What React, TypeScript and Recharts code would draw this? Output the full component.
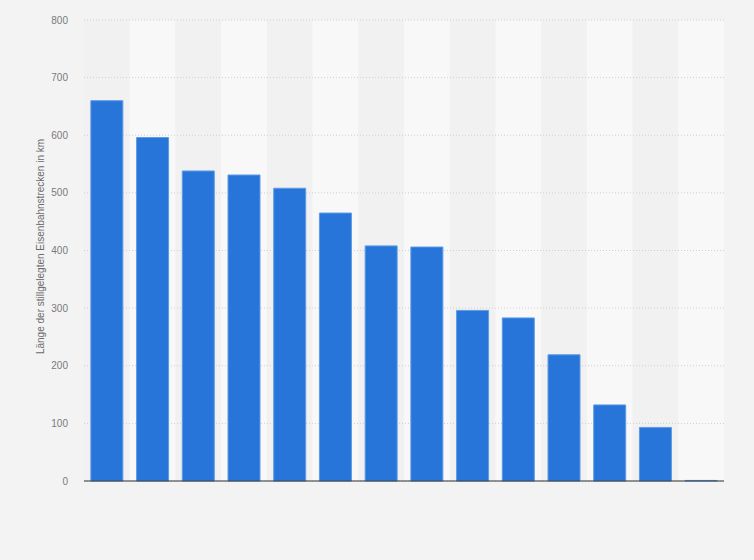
import React from "react";
import { BarChart, Bar, XAxis, YAxis, CartesianGrid, ReferenceArea } from "recharts";

const categories = ["1", "2", "3", "4", "5", "6", "7", "8", "9", "10", "11", "12", "13", "14"];
const values = [660, 596, 538, 531, 508, 465, 408, 406, 296, 283, 219, 132, 93, 1];
const yTicks = [0, 100, 200, 300, 400, 500, 600, 700, 800];
const yLabel = "Länge der stillgelegten Eisenbahnstrecken in km";

const data = categories.map((c, i) => ({ name: c, value: values[i] }));

export default function App() {
  return (
    <div
      style={{
        position: "absolute",
        left: 0,
        top: 0,
        width: 754,
        height: 560,
        background: "#f3f3f3",
        fontFamily: "'Liberation Sans', Arial, sans-serif",
      }}
    >
      <BarChart
        width={754}
        height={560}
        data={data}
        margin={{ top: 20, right: 30, bottom: 78, left: 24 }}
        barCategoryGap="15%"
      >
        {categories.map((c, i) => (
          <ReferenceArea
            key={"a" + c}
            x1={c}
            x2={c}
            fill={i % 2 === 1 ? "#f8f8f8" : "#f1f1f1"}
            fillOpacity={1}
            stroke="none"
            zIndex={-200}
          />
        ))}
        <CartesianGrid vertical={false} stroke="#cfcfcf" strokeDasharray="1 2" />
        <XAxis
          dataKey="name"
          tick={false}
          tickLine={false}
          height={1}
          axisLine={{ stroke: "#333333", strokeWidth: 1 }}
        />
        <YAxis
          width={60}
          domain={[0, 800]}
          ticks={yTicks}
          axisLine={false}
          tickLine={false}
          tickSize={6}
          tickMargin={10}
          tick={{ fontSize: 10, fill: "#7a7a7a" }}
          label={{
            value: yLabel,
            angle: -90,
            position: "center",
            dx: -14,
            dy: -4,
            style: { fontSize: 10, fill: "#6a6a6a", textAnchor: "middle" },
          }}
        />
        <Bar dataKey="value" fill="#2775d9" stroke="#5c9be6" strokeWidth={1} isAnimationActive={false} />
      </BarChart>
    </div>
  );
}
